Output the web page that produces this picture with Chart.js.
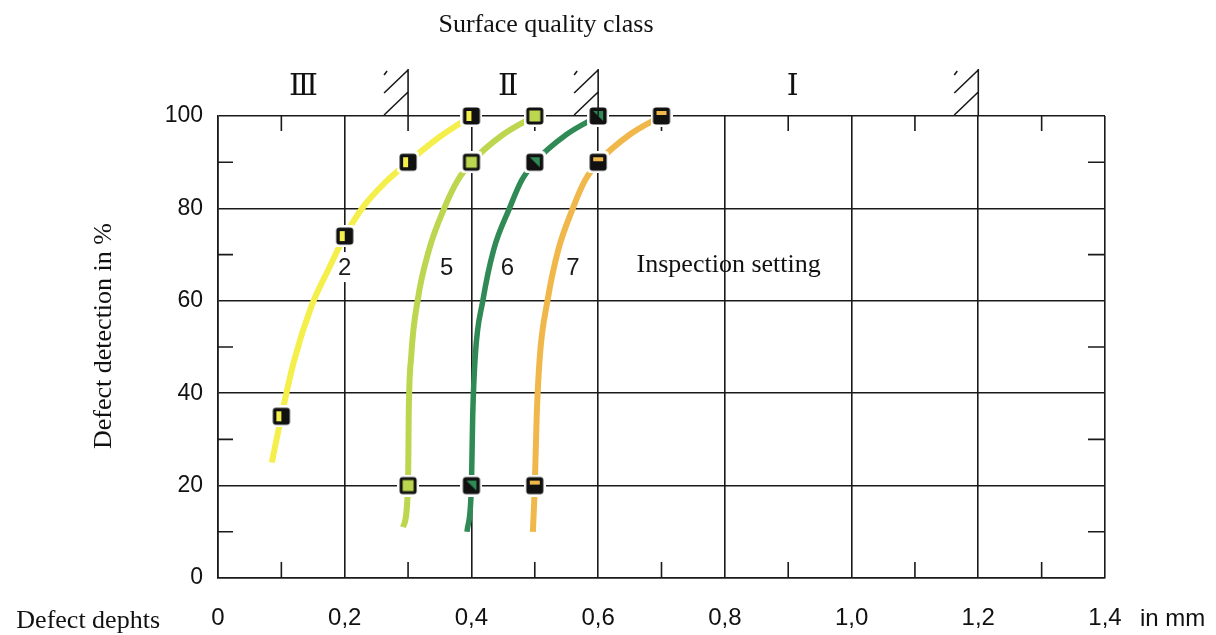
<!DOCTYPE html>
<html lang="en">
<head>
  <meta charset="UTF-8">
  <title>Defect detection</title>
  <script src="https://cdn.jsdelivr.net/npm/chart.js"></script>
  <style>
    body { margin: 0; background: #fff; }
    #wrap { width: 1216px; height: 635px; }
  </style>
</head>
<body>
  <div id="wrap"><canvas id="defectChart" width="1216" height="635"></canvas></div>

  <script>
    // tick labels
    const xTickLabels = ['0', '', '0,2', '', '0,4', '', '0,6', '', '0,8', '', '1,0', '', '1,2', '', '1,4'];
    const yTickLabels = ['0', '', '20', '', '40', '', '60', '', '80', '', '100'];

    // curves (defect depth in mm, detection in %)
    const curve2X = [0.085, 0.1, 0.12, 0.148, 0.175, 0.2, 0.23, 0.263, 0.3, 0.35, 0.4];
    const curve2Y = [25, 35, 47, 59, 67, 74, 80.5, 85.5, 90, 95.5, 100];
    const curve5X = [0.292, 0.3, 0.301, 0.305, 0.315, 0.333, 0.357, 0.378, 0.4, 0.45, 0.5];
    const curve5Y = [11, 20, 35, 48, 60, 71, 80, 86, 90, 96, 100];
    const curve6X = [0.393, 0.4, 0.402, 0.406, 0.418, 0.435, 0.46, 0.479, 0.5, 0.55, 0.6];
    const curve6Y = [10, 20, 35, 48, 60, 71, 80, 86, 90, 96, 100];
    const curve7X = [0.497, 0.5, 0.503, 0.508, 0.52, 0.537, 0.56, 0.579, 0.6, 0.65, 0.7];
    const curve7Y = [10, 20, 35, 48, 60, 71, 80, 86, 90, 96, 100];

    // measured points (markers)
    const marker2X = [0.1, 0.2, 0.3, 0.4];
    const marker2Y = [35, 74, 90, 100];
    const marker5X = [0.3, 0.4, 0.5];
    const marker5Y = [20, 90, 100];
    const marker6X = [0.4, 0.5, 0.6];
    const marker6Y = [20, 90, 100];
    const marker7X = [0.5, 0.6, 0.7];
    const marker7Y = [20, 90, 100];

    const curveNames = ['2', '5', '6', '7'];
    const curveLabelX = [0.2, 0.361, 0.457, 0.56];
    const curveLabelY = 67.3;

    const classNames = ['\u2162', '\u2161', '\u2160'];
    const classLabelX = [0.135, 0.458, 0.907];
    const classBounds = [0.3, 0.6, 1.2];

    const YELLOW = '#f4ef4a';
    const LIGHTGREEN = '#bdd64f';
    const DARKGREEN = '#2f8a55';
    const ORANGE = '#f0b84a';
    const INK = '#1a1a1a';
    const SANS = '"Liberation Sans", Arial, sans-serif';
    const SERIF = '"Liberation Serif", "Times New Roman", serif';

    const toPts = (xs, ys) => xs.map((x, i) => ({ x: x, y: ys[i] }));

    // small square markers with a white halo
    function makeMarker(kind, color) {
      const c = document.createElement('canvas');
      c.width = 22; c.height = 22;
      const g = c.getContext('2d');
      g.fillStyle = '#fff';
      g.beginPath(); g.roundRect(0, 0, 22, 22, 4); g.fill();
      g.fillStyle = '#111';
      g.beginPath(); g.roundRect(2.5, 2.5, 17, 17, 3); g.fill();
      g.fillStyle = color;
      if (kind === 'half') {
        g.fillRect(6, 6, 5, 10);
      } else if (kind === 'full') {
        g.fillRect(5.5, 5.5, 11, 11);
      } else if (kind === 'diag') {
        g.beginPath(); g.moveTo(6, 6); g.lineTo(16, 6); g.lineTo(16, 16); g.closePath(); g.fill();
      } else {
        g.fillRect(6, 6, 10, 4);
      }
      return c;
    }

    const lineSet = (pts, color, w) => ({
      data: pts, showLine: true, borderColor: color, borderWidth: w, pointRadius: 0,
      tension: 0.4, cubicInterpolationMode: 'monotone', fill: false, order: 2,
      borderCapStyle: 'butt'
    });
    const markSet = (pts, img) => ({
      data: pts, showLine: false, pointStyle: img, pointRadius: 11, order: 1, clip: false
    });

    const decor = {
      id: 'decor',
      beforeDatasetsDraw(chart) {
        const { ctx, chartArea: a, scales: { x, y } } = chart;
        ctx.save();
        ctx.strokeStyle = INK;
        ctx.lineWidth = 1.6;
        // inward minor ticks
        for (let i = 1; i < 14; i += 2) {
          const px = x.getPixelForValue(i / 10);
          ctx.beginPath();
          ctx.moveTo(px, a.bottom); ctx.lineTo(px, a.bottom - 16);
          ctx.moveTo(px, a.top); ctx.lineTo(px, a.top + 15);
          ctx.stroke();
        }
        for (let v = 10; v < 100; v += 20) {
          const py = y.getPixelForValue(v);
          ctx.beginPath();
          ctx.moveTo(a.left, py); ctx.lineTo(a.left + 15, py);
          ctx.moveTo(a.right, py); ctx.lineTo(a.right - 17, py);
          ctx.stroke();
        }
        // curve numbers on white
        ctx.font = '24px ' + SANS;
        ctx.textAlign = 'center';
        ctx.textBaseline = 'middle';
        curveNames.forEach((t, i) => {
          const px = x.getPixelForValue(curveLabelX[i]);
          const py = y.getPixelForValue(curveLabelY);
          ctx.fillStyle = '#fff';
          ctx.fillRect(px - 10, py - 15, 20, 30);
          ctx.fillStyle = INK;
          ctx.fillText(t, px, py + 1);
        });
        ctx.font = '26px ' + SERIF;
        ctx.fillStyle = '#111';
        ctx.fillText('Inspection setting', x.getPixelForValue(0.806), y.getPixelForValue(67.7));
        ctx.restore();
      },
      afterDraw(chart) {
        const { ctx, chartArea: a, scales: { x } } = chart;
        ctx.save();
        ctx.strokeStyle = INK;
        ctx.lineWidth = 1.6;
        // class boundary hatches
        classBounds.forEach(b => {
          const px = x.getPixelForValue(b);
          ctx.beginPath();
          ctx.moveTo(px, a.top); ctx.lineTo(px, a.top - 47);
          ctx.moveTo(px - 24, a.top - 1); ctx.lineTo(px, a.top - 24);
          ctx.moveTo(px - 24, a.top - 23); ctx.lineTo(px, a.top - 46);
          ctx.moveTo(px - 24, a.top - 41); ctx.lineTo(px - 21, a.top - 45);
          ctx.stroke();
        });
        ctx.fillStyle = '#111';
        ctx.textAlign = 'center';
        ctx.textBaseline = 'middle';
        ctx.font = '30px "DejaVu Serif", "Liberation Serif", serif';
        classNames.forEach((t, i) => {
          ctx.fillText(t, x.getPixelForValue(classLabelX[i]), a.top - 29);
        });
        ctx.font = '26px ' + SERIF;
        ctx.fillText('Surface quality class', 546, 25);
        ctx.textAlign = 'right';
        ctx.fillText('Defect dephts', 160, 621);
        ctx.textAlign = 'left';
        ctx.font = '24px ' + SANS;
        ctx.fillText('in mm', 1140, 619);
        ctx.translate(104, 336);
        ctx.rotate(-Math.PI / 2);
        ctx.textAlign = 'center';
        ctx.font = '26px ' + SERIF;
        ctx.fillText('Defect detection in %', 0, 0);
        ctx.restore();
      }
    };

    const majorX = v => Math.round(v * 10) % 2 === 0;
    const majorY = v => Math.round(v) % 20 === 0;

    new Chart(document.getElementById('defectChart'), {
      type: 'scatter',
      data: {
        datasets: [
          markSet(toPts(marker2X, marker2Y), makeMarker('half', YELLOW)),
          markSet(toPts(marker5X, marker5Y), makeMarker('full', LIGHTGREEN)),
          markSet(toPts(marker6X, marker6Y), makeMarker('diag', DARKGREEN)),
          markSet(toPts(marker7X, marker7Y), makeMarker('band', ORANGE)),
          lineSet(toPts(curve2X, curve2Y), YELLOW, 6),
          lineSet(toPts(curve5X, curve5Y), LIGHTGREEN, 6),
          lineSet(toPts(curve6X, curve6Y), DARKGREEN, 5.5),
          lineSet(toPts(curve7X, curve7Y), ORANGE, 6)
        ]
      },
      options: {
        responsive: false,
        devicePixelRatio: 1,
        animation: false,
        layout: { padding: { top: 116, right: 111, bottom: 0, left: 0 } },
        plugins: { legend: { display: false }, tooltip: { enabled: false } },
        scales: {
          x: {
            type: 'linear', min: 0, max: 1.4,
            afterFit: s => { s.height = 57; },
            ticks: {
              stepSize: 0.1, maxRotation: 0, autoSkip: false, padding: 26, color: '#111',
              font: { family: SANS, size: 24 },
              callback: v => xTickLabels[Math.round(v * 10)] || ''
            },
            grid: {
              drawTicks: false, lineWidth: 1.6,
              color: c => majorX(c.tick.value) ? INK : 'rgba(0,0,0,0)'
            },
            border: { color: INK, width: 1.6 }
          },
          y: {
            min: 0, max: 100,
            afterFit: s => { s.width = 218; },
            ticks: {
              stepSize: 10, padding: 15, color: '#111',
              font: { family: SANS, size: 23 },
              callback: v => yTickLabels[Math.round(v / 10)] || ''
            },
            grid: {
              drawTicks: false, lineWidth: 1.6,
              color: c => majorY(c.tick.value) ? INK : 'rgba(0,0,0,0)'
            },
            border: { color: INK, width: 1.6 }
          }
        }
      },
      plugins: [decor]
    });
  </script>
</body>
</html>
